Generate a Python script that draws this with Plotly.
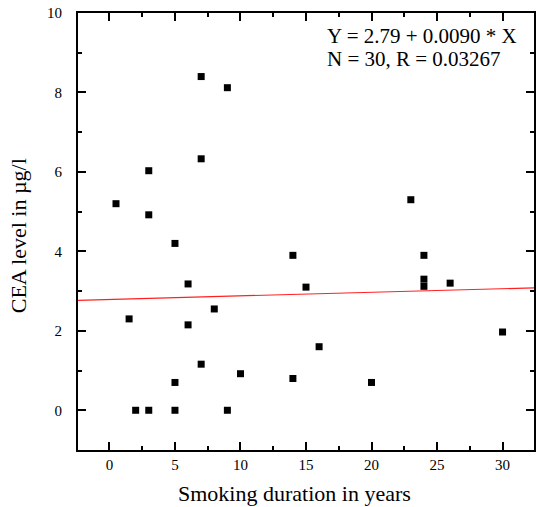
import plotly.graph_objects as go

# Data
duration_years = [0.5, 1.5, 2, 3, 3, 3, 5, 5, 5, 6, 6, 7, 7, 7, 8, 9, 9, 10,
                  14, 14, 15, 16, 20, 23, 24, 24, 24, 26, 30]
cea_level = [5.2, 2.3, 0.0, 0.0, 6.03, 4.92, 4.2, 0.7, 0.0, 3.18, 2.15, 8.4, 6.33, 1.16,
             2.55, 8.12, 0.0, 0.92, 3.9, 0.8, 3.1, 1.6, 0.7, 5.3, 3.9, 3.3, 3.12, 3.2, 1.97]

fit_intercept = 2.79
fit_slope = 0.0090
x_range = [-2.4, 32.4]
y_range = [-1, 10]
fit_x = x_range
fit_y = [fit_intercept + fit_slope * v for v in fit_x]

serif = "Liberation Serif"
W, H = 536, 507
L, R, T, B = 78, 0, 13, 57
PW, PH = W - L - R, H - T - B


def px(x):
    return (x - L) / PW


def py(y):
    return (H - B - y) / PH


fig = go.Figure()
fig.add_trace(go.Scatter(x=fit_x, y=fit_y, mode="lines",
                         line=dict(color="#ff2020", width=1.2), showlegend=False))
fig.add_trace(go.Scatter(x=duration_years, y=cea_level, mode="markers",
                         marker=dict(symbol="square", size=7, color="black",
                                     line=dict(width=0)),
                         showlegend=False))

axis_common = dict(showgrid=False, zeroline=False, showline=True, linecolor="black",
                   linewidth=2, mirror="ticks", ticks="inside", tickcolor="black",
                   tickwidth=1.5, ticklen=8,
                   tickfont=dict(family=serif, size=15, color="black"))

fig.update_xaxes(range=x_range, tickvals=[0, 5, 10, 15, 20, 25, 30],
                 minor=dict(dtick=2.5, tick0=0, ticks="inside", ticklen=4,
                            tickcolor="black", tickwidth=1.5),
                 ticklabelstandoff=0, **axis_common)
fig.update_yaxes(range=y_range, tickvals=[0, 2, 4, 6, 8, 10],
                 minor=dict(dtick=1, tick0=0, ticks="inside", ticklen=4,
                            tickcolor="black", tickwidth=1.5),
                 ticklabelstandoff=11, **axis_common)

fig.update_layout(
    width=W, height=H,
    margin=dict(l=L, r=R, t=T, b=B),
    paper_bgcolor="white", plot_bgcolor="white",
    annotations=[
        dict(xref="paper", yref="paper", x=px(295), y=py(494),
             text="Smoking duration in years", showarrow=False,
             xanchor="center", yanchor="middle",
             font=dict(family=serif, size=22, color="black")),
        dict(xref="paper", yref="paper", x=px(18), y=py(236),
             text="CEA level in µg/l", showarrow=False, textangle=-90,
             xanchor="center", yanchor="middle",
             font=dict(family=serif, size=22, color="black")),
        dict(xref="paper", yref="paper", x=px(326), y=py(36),
             text="Y = 2.79 + 0.0090 * X", showarrow=False,
             xanchor="left", yanchor="middle",
             font=dict(family=serif, size=21, color="black")),
        dict(xref="paper", yref="paper", x=px(326), y=py(59),
             text="N = 30, R = 0.03267", showarrow=False,
             xanchor="left", yanchor="middle",
             font=dict(family=serif, size=21, color="black")),
    ],
)

fig.write_html("out.html")
